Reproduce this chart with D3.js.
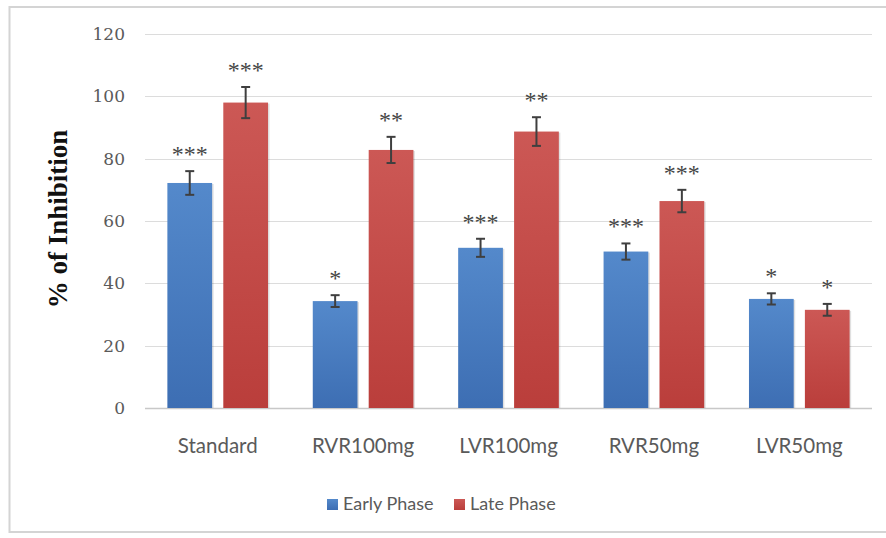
<!DOCTYPE html>
<html>
<head>
<meta charset="utf-8">
<script src="https://cdn.jsdelivr.net/npm/d3@7"></script>
<style>
  body { margin: 0; background: #fff; }
  svg { display: block; }
</style>
</head>
<body>
<div id="chart"></div>
<script>
// groups on the x axis
var groups = ["Standard", "RVR100mg", "LVR100mg", "RVR50mg", "LVR50mg"];
var phases = ["Early Phase", "Late Phase"];

// % of inhibition
var earlyValues = [72.2, 34.3, 51.4, 50.2, 35.0];
var lateValues  = [98.0, 82.8, 88.7, 66.4, 31.5];

// error bar half-heights
var earlyErr = [3.8, 1.9, 2.9, 2.6, 1.8];
var lateErr  = [5.0, 4.2, 4.6, 3.6, 1.9];

// significance marks
var earlySig = ["***", "*", "***", "***", "*"];
var lateSig  = ["***", "**", "**", "***", "*"];

var yTicks = [0, 20, 40, 60, 80, 100, 120];

var width = 886;
var height = 538;
var margin = {left: 145, right: 14, top: 34, bottom: 130};

var colors = {"Early Phase": ["#5489cb", "#3d6eb3"], "Late Phase": ["#cc5855", "#ba3e3b"]};

// build rows from the arrays
var rows = groups.map(function(g, i) {
  return {
    group: g,
    bars: [
      {phase: phases[0], value: earlyValues[i], err: earlyErr[i], sig: earlySig[i]},
      {phase: phases[1], value: lateValues[i], err: lateErr[i], sig: lateSig[i]}
    ]
  };
});

var svg = d3.select("#chart")
  .append("svg")
  .attr("width", width)
  .attr("height", height);

// gradients for the bars
var defs = svg.append("defs");
phases.forEach(function(p, i) {
  var grad = defs.append("linearGradient")
    .attr("id", "grad" + i)
    .attr("x1", 0).attr("y1", 0).attr("x2", 0).attr("y2", 1);
  grad.append("stop").attr("offset", "0%").attr("stop-color", colors[p][0]);
  grad.append("stop").attr("offset", "100%").attr("stop-color", colors[p][1]);
});

// card border
svg.append("rect")
  .attr("x", 9.5)
  .attr("y", 7)
  .attr("width", 900)
  .attr("height", 525)
  .attr("fill", "none")
  .attr("stroke", "#d4d4d4")
  .attr("stroke-width", 2);

var x0 = d3.scaleBand()
  .domain(groups)
  .range([margin.left, width - margin.right]);

var x1 = d3.scaleBand()
  .domain(phases)
  .range([0, x0.bandwidth()])
  .paddingInner(0.2)
  .paddingOuter(0.4);

var y = d3.scaleLinear()
  .domain([0, 120])
  .range([height - margin.bottom, margin.top]);

// gridlines
svg.append("g")
  .selectAll("line")
  .data(yTicks)
  .enter()
  .append("line")
  .attr("x1", margin.left)
  .attr("x2", width - margin.right)
  .attr("y1", function(d) { return Math.round(y(d)) + 0.5; })
  .attr("y2", function(d) { return Math.round(y(d)) + 0.5; })
  .attr("stroke", function(d) { return d === 0 ? "#c8c8c8" : "#dcdcdc"; })
  .attr("stroke-width", function(d) { return d === 0 ? 1.5 : 1; });

// y tick labels
svg.append("g")
  .selectAll("text")
  .data(yTicks)
  .enter()
  .append("text")
  .attr("x", 125)
  .attr("y", function(d) { return y(d); })
  .attr("dy", "0.36em")
  .attr("text-anchor", "end")
  .attr("font-family", "DejaVu Serif, serif")
  .attr("font-size", 17)
  .attr("fill", "#5a5a5a")
  .text(function(d) { return d; });

// y title
svg.append("text")
  .attr("transform", "translate(" + 67 + "," + (y(60) - 2) + ") rotate(-90)")
  .attr("text-anchor", "middle")
  .attr("font-family", "Liberation Serif, Times New Roman, serif")
  .attr("font-weight", "bold")
  .attr("font-size", 27)
  .attr("fill", "#111")
  .text("% of Inhibition");

// bars
var groupSel = svg.append("g")
  .selectAll("g")
  .data(rows)
  .enter()
  .append("g")
  .attr("transform", function(d) { return "translate(" + x0(d.group) + ",0)"; });

groupSel.selectAll("rect.shadow")
  .data(function(d) { return d.bars; })
  .enter()
  .append("rect")
  .attr("class", "shadow")
  .attr("x", function(d) { return x1(d.phase) + 1.5; })
  .attr("y", function(d) { return y(d.value) + 1; })
  .attr("width", x1.bandwidth())
  .attr("height", function(d) { return y(0) - y(d.value) - 1; })
  .attr("fill", "#000")
  .attr("opacity", 0.12);

groupSel.selectAll("rect.bar")
  .data(function(d) { return d.bars; })
  .enter()
  .append("rect")
  .attr("class", "bar")
  .attr("x", function(d) { return x1(d.phase); })
  .attr("y", function(d) { return y(d.value); })
  .attr("width", x1.bandwidth())
  .attr("height", function(d) { return y(0) - y(d.value); })
  .attr("fill", function(d) { return "url(#grad" + phases.indexOf(d.phase) + ")"; });

// error bars
var errSel = groupSel.selectAll("g.err")
  .data(function(d) { return d.bars; })
  .enter()
  .append("g")
  .attr("class", "err")
  .attr("stroke", "#3f3f3f")
  .attr("stroke-width", 2);

var cap = 4.5;
errSel.append("line")
  .attr("x1", function(d) { return x1(d.phase) + x1.bandwidth() / 2; })
  .attr("x2", function(d) { return x1(d.phase) + x1.bandwidth() / 2; })
  .attr("y1", function(d) { return y(d.value + d.err); })
  .attr("y2", function(d) { return y(d.value - d.err); });
errSel.append("line")
  .attr("x1", function(d) { return x1(d.phase) + x1.bandwidth() / 2 - cap; })
  .attr("x2", function(d) { return x1(d.phase) + x1.bandwidth() / 2 + cap; })
  .attr("y1", function(d) { return y(d.value + d.err); })
  .attr("y2", function(d) { return y(d.value + d.err); });
errSel.append("line")
  .attr("x1", function(d) { return x1(d.phase) + x1.bandwidth() / 2 - cap; })
  .attr("x2", function(d) { return x1(d.phase) + x1.bandwidth() / 2 + cap; })
  .attr("y1", function(d) { return y(d.value - d.err); })
  .attr("y2", function(d) { return y(d.value - d.err); });

// significance stars
groupSel.selectAll("text.sig")
  .data(function(d) { return d.bars; })
  .enter()
  .append("text")
  .attr("class", "sig")
  .attr("x", function(d) { return x1(d.phase) + x1.bandwidth() / 2; })
  .attr("y", function(d) { return y(d.value + d.err) - 9; })
  .attr("text-anchor", "middle")
  .attr("font-family", "Liberation Serif, Times New Roman, serif")
  .attr("font-size", 24)
  .attr("fill", "#454545")
  .text(function(d) { return d.sig; });

// category labels
svg.append("g")
  .selectAll("text")
  .data(groups)
  .enter()
  .append("text")
  .attr("x", function(d) { return x0(d) + x0.bandwidth() / 2; })
  .attr("y", y(0) + 45)
  .attr("text-anchor", "middle")
  .attr("font-family", "Lato, sans-serif")
  .attr("font-size", 20.5)
  .attr("fill", "#5a5a5a")
  .text(function(d) { return d; });

// legend
var legendX = [327, 454];
var legend = svg.append("g")
  .selectAll("g")
  .data(phases)
  .enter()
  .append("g")
  .attr("transform", function(d, i) { return "translate(" + legendX[i] + "," + 504 + ")"; });

legend.append("rect")
  .attr("x", 0)
  .attr("y", -5)
  .attr("width", 11)
  .attr("height", 11)
  .attr("fill", function(d, i) { return "url(#grad" + i + ")"; });

legend.append("text")
  .attr("x", 16)
  .attr("y", 0)
  .attr("dy", "0.36em")
  .attr("font-family", "Lato, sans-serif")
  .attr("font-size", 18)
  .attr("fill", "#5a5a5a")
  .text(function(d) { return d; });
</script>
</body>
</html>
